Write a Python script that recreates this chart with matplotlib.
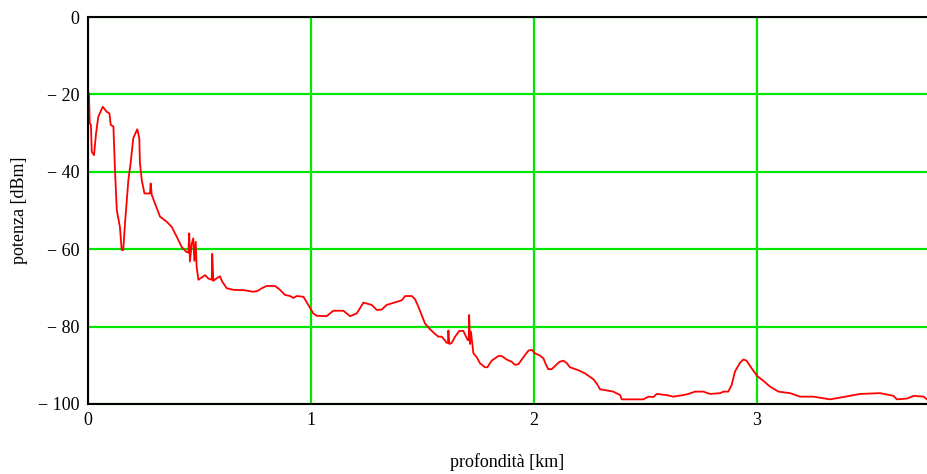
import matplotlib.pyplot as plt

# Profilo di potenza lungo la profondità
profondita = [0.000, 0.004, 0.008, 0.013, 0.017, 0.027, 0.036, 0.046, 0.066, 0.084,
              0.096, 0.102, 0.114, 0.121, 0.129, 0.143, 0.151, 0.158, 0.166, 0.181,
              0.191, 0.203, 0.221, 0.230, 0.233, 0.241, 0.253, 0.278, 0.281, 0.286,
              0.300, 0.323, 0.353, 0.375, 0.398, 0.420, 0.439, 0.450, 0.454, 0.457,
              0.465, 0.472, 0.477, 0.483, 0.487, 0.495, 0.510, 0.525, 0.540, 0.555,
              0.557, 0.562, 0.577, 0.592, 0.600, 0.622, 0.637, 0.652, 0.700, 0.741,
              0.760, 0.779, 0.801, 0.839, 0.861, 0.883, 0.906, 0.921, 0.936, 0.966,
              0.988, 1.010, 1.025, 1.070, 1.100, 1.145, 1.175, 1.205, 1.235, 1.272,
              1.295, 1.317, 1.339, 1.384, 1.407, 1.422, 1.452, 1.466, 1.481, 1.496,
              1.511, 1.534, 1.556, 1.571, 1.586, 1.601, 1.608, 1.614, 1.616, 1.620,
              1.631, 1.646, 1.665, 1.683, 1.695, 1.703, 1.707, 1.709, 1.713, 1.717,
              1.728, 1.743, 1.758, 1.780, 1.791, 1.810, 1.840, 1.855, 1.877, 1.900,
              1.915, 1.930, 1.945, 1.960, 1.975, 1.990, 2.004, 2.027, 2.042, 2.054,
              2.064, 2.079, 2.094, 2.114, 2.131, 2.146, 2.161, 2.176, 2.200, 2.229,
              2.266, 2.281, 2.296, 2.318, 2.355, 2.386, 2.393, 2.440, 2.490, 2.513,
              2.535, 2.550, 2.595, 2.624, 2.669, 2.692, 2.722, 2.759, 2.789, 2.834,
              2.849, 2.871, 2.886, 2.901, 2.924, 2.939, 2.953, 2.976, 3.001, 3.028,
              3.058, 3.096, 3.148, 3.193, 3.253, 3.327, 3.387, 3.462, 3.552, 3.612,
              3.627, 3.672, 3.702, 3.747, 3.762]
potenza = [-27.5, -19.7, -27.5, -27.9, -34.8, -35.7, -30.1, -25.8, -23.2, -24.5,
           -24.9, -27.9, -28.3, -39.5, -49.9, -54.2, -60.2, -60.2, -53.3, -42.1,
           -37.8, -31.3, -29.0, -31.3, -37.8, -42.1, -45.6, -45.6, -43.0, -46.0,
           -48.1, -51.6, -52.9, -54.2, -56.8, -59.4, -60.6, -60.9, -55.9, -63.2,
           -58.6, -57.2, -63.0, -58.1, -64.5, -67.9, -67.3, -66.7, -67.6, -67.9,
           -61.2, -68.2, -67.5, -67.0, -68.2, -70.1, -70.3, -70.5, -70.6, -71.0,
           -70.8, -70.1, -69.5, -69.5, -70.5, -71.8, -72.1, -72.6, -72.1, -72.3,
           -74.4, -76.6, -77.2, -77.3, -75.9, -75.9, -77.3, -76.6, -73.8, -74.4,
           -75.7, -75.6, -74.4, -73.6, -73.2, -72.1, -72.1, -72.9, -74.8, -77.0,
           -79.2, -80.7, -81.9, -82.6, -82.6, -83.6, -84.2, -84.2, -81.0, -84.5,
           -84.2, -82.6, -81.1, -81.1, -82.6, -83.5, -83.5, -77.0, -84.5, -81.3,
           -86.9, -87.9, -89.5, -90.5, -90.5, -88.8, -87.6, -87.6, -88.5, -89.1,
           -89.9, -89.7, -88.5, -87.3, -86.2, -86.0, -86.9, -87.5, -88.2, -89.9,
           -91.0, -91.0, -90.2, -89.1, -88.8, -89.4, -90.5, -90.8, -91.3, -92.1,
           -93.6, -94.7, -96.2, -96.4, -96.8, -97.7, -98.8, -98.8, -98.8, -98.1,
           -98.2, -97.4, -97.7, -98.1, -97.7, -97.4, -96.8, -96.8, -97.4, -97.2,
           -96.8, -96.8, -95.1, -91.6, -89.3, -88.5, -88.8, -90.8, -92.8, -94.0,
           -95.5, -96.8, -97.2, -98.1, -98.1, -98.8, -98.2, -97.4, -97.2, -97.9,
           -98.8, -98.6, -97.9, -98.1, -98.8]

x_tick = [0, 1, 2, 3]
y_tick = [0, -20, -40, -60, -80, -100]
y_tick_label = ['0', '\u2212 20', '\u2212 40', '\u2212 60', '\u2212 80', '\u2212 100']

plt.rcParams['font.family'] = ['Liberation Serif', 'DejaVu Serif']
plt.rcParams['font.size'] = 13

fig = plt.figure(figsize=(9.27, 4.74), dpi=100)
ax = fig.add_axes([88 / 927, 1 - 404 / 474, 1 - 88 / 927, (404 - 17) / 474])

ax.plot(profondita, potenza, color='#ff0000', linewidth=1.3, zorder=3)

ax.set_xlim(0, 3.762)
ax.set_ylim(-100, 0)
ax.set_xticks(x_tick)
ax.set_yticks(y_tick)
ax.set_yticklabels(y_tick_label)
ax.grid(True, color='#00e600', linewidth=1.6)
ax.tick_params(length=0, pad=6)

for lato in ['left', 'bottom', 'top']:
    ax.spines[lato].set_linewidth(1.5)
    ax.spines[lato].set_zorder(4)
ax.spines['right'].set_visible(False)

ax.set_xlabel('profondità [km]', labelpad=17)
ax.set_ylabel('potenza [dBm]', labelpad=7)

fig.savefig('out.png', dpi=100)
